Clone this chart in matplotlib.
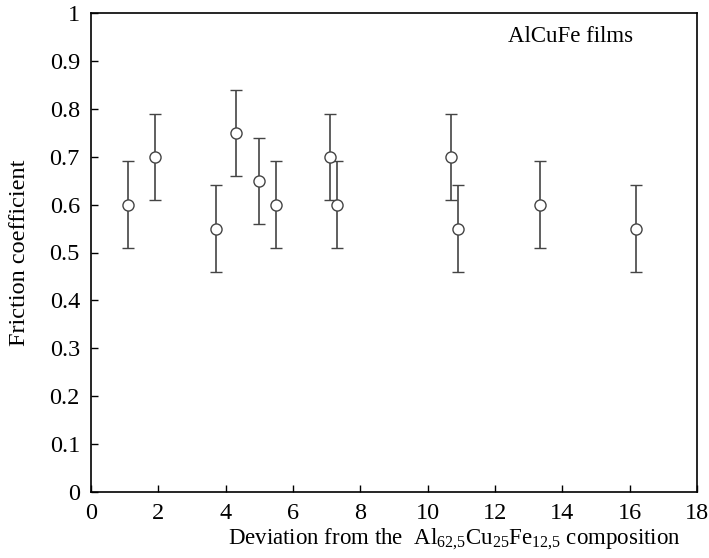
import matplotlib.pyplot as plt
import numpy as np

plt.rcParams['font.family'] = 'Liberation Serif'
plt.rcParams['mathtext.fontset'] = 'custom'
plt.rcParams['mathtext.rm'] = 'Liberation Serif'
plt.rcParams['mathtext.it'] = 'Liberation Serif:italic'

# deviation from composition vs friction coefficient
deviation = [1.1, 1.9, 3.7, 4.3, 5.0, 5.5, 7.1, 7.3, 10.7, 10.9, 13.35, 16.2]
friction = [0.60, 0.70, 0.55, 0.75, 0.65, 0.60, 0.70, 0.60, 0.70, 0.55, 0.60, 0.55]
err = [0.09, 0.09, 0.09, 0.09, 0.09, 0.09, 0.09, 0.09, 0.09, 0.09, 0.09, 0.09]

fig = plt.figure(figsize=(7.09, 5.58), dpi=100)
ax = fig.add_axes([91/709, 66/558, 606/709, 479/558])

ax.errorbar(deviation, friction, yerr=err, fmt='o', color='#444444',
            mfc='white', mec='#444444', ms=8, mew=1, elinewidth=1.2,
            capsize=4, capthick=1.2, zorder=3)

ax.set_xlim(0, 18)
ax.set_ylim(0, 1)
ax.set_xticks(np.arange(0, 19, 2))
ax.set_yticks(np.arange(0, 1.01, 0.1))
ax.set_yticklabels(['0', '0.1', '0.2', '0.3', '0.4', '0.5', '0.6', '0.7', '0.8', '0.9', '1'])
ax.tick_params(direction='in', length=5, width=1, labelsize=17.5, pad=8)
for s in ax.spines.values():
    s.set_linewidth(1.2)

ax.set_ylabel('Friction coefficient', fontsize=17.5)
ax.yaxis.set_label_coords(-0.10, 0.5)
ax.set_xlabel(r'Deviation from the  Al$_{62{,}5}$Cu$_{25}$Fe$_{12{,}5}$ composition', fontsize=16.5)
ax.xaxis.set_label_coords(0.60, -0.072)

ax.text(0.688, 0.95, 'AlCuFe films', transform=ax.transAxes, fontsize=16.5, va='center')

fig.savefig('out.png', dpi=100)
